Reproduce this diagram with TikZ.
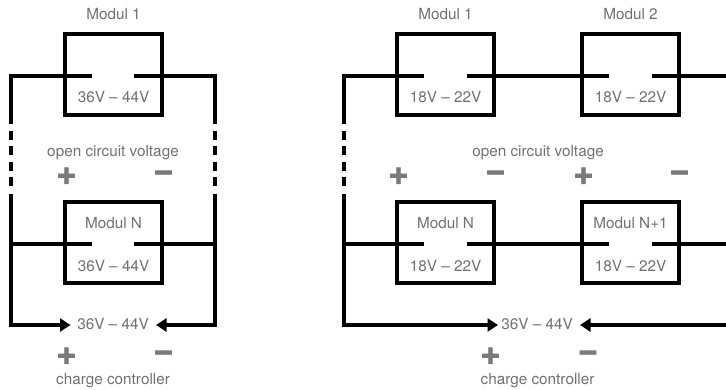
\documentclass[tikz,border=0pt]{standalone}
\usepackage{fontspec}
\setmainfont{TeX Gyre Heros}
\newfontfamily\signfont{Liberation Sans}[BoldFeatures={FakeBold=2}]
\usetikzlibrary{arrows.meta}
\definecolor{txt}{RGB}{112,112,112}
\definecolor{sgn}{RGB}{122,122,122}
\begin{document}
\begin{tikzpicture}[x=1pt,y=-1pt, line width=4pt, line join=miter,
 modbox/.style={draw, line width=4pt, minimum width=97pt, minimum height=81pt, inner sep=0pt},
 lbl/.style={text=txt, font=\fontsize{15.3}{17}\selectfont, anchor=base, inner sep=0pt},
 sgnlbl/.style={text=sgn, font=\signfont\bfseries\fontsize{32}{32}\selectfont, inner sep=0pt},
 wire/.style={draw, line width=4pt, line join=miter},
 arr/.style={-{Triangle[length=10.5pt,width=13pt]}},
 dsh/.style={dash pattern=on 9pt off 6.33pt}]
\useasboundingbox (0,0) rectangle (726,390);

% ---------- left diagram (parallel) ----------
\node[modbox] (L1) at (113.5,75) {};
\node[modbox] (LN) at (113.5,242.5) {};
\node[lbl] (L1t) at (113.5,19.5) {Modul 1};
\node[lbl] (L1v) at (113.5,103) {36V – 44V};
\node[lbl] (LNt) at (113.5,229) {Modul N};
\node[lbl] (LNv) at (113.5,272) {36V – 44V};
\node[lbl] (Loc) at (113,157) {open circuit voltage};
\node[sgnlbl] (Lp1) at (66.5,177) {+};
\node[sgnlbl] (Lm1) at (163.5,177) {−};
\node[lbl] (Lout) at (113,330) {36V – 44V};
\node[sgnlbl] (Lp2) at (66.5,357) {+};
\node[sgnlbl] (Lm2) at (163.5,357) {−};
\node[lbl] (Lcc) at (113,384) {charge controller};

\coordinate (la) at (91.7,76);  \coordinate (lb) at (11,76);
\coordinate (lc) at (11,124);   \coordinate (ld) at (11,131);
\coordinate (le) at (11,186);   \coordinate (lf) at (11,194);
\coordinate (lg) at (11,325);   \coordinate (lh) at (70.5,325);
\coordinate (li) at (11,244);   \coordinate (lj) at (91.7,244);
\coordinate (ra) at (134.3,76); \coordinate (rb) at (215,76);
\coordinate (rc) at (215,124);  \coordinate (rd) at (215,131);
\coordinate (re) at (215,186);  \coordinate (rf) at (215,194);
\coordinate (rg) at (215,325);  \coordinate (rh) at (156,325);
\coordinate (ri) at (215,244);  \coordinate (rj) at (134.3,244);

\draw[wire] (la) -- (lb) -- (lc);
\draw[wire,dsh] (ld) -- (le);
\draw[wire,arr] (lf) -- (lg) -- (lh);
\draw[wire] (li) -- (lj);
\draw[wire] (ra) -- (rb) -- (rc);
\draw[wire,dsh] (rd) -- (re);
\draw[wire,arr] (rf) -- (rg) -- (rh);
\draw[wire] (ri) -- (rj);

% ---------- right diagram (series) ----------
\node[modbox] (R1) at (445.5,75) {};
\node[modbox] (R2) at (630.5,75) {};
\node[modbox] (RN) at (445.5,243) {};
\node[modbox] (RN1) at (630.5,243) {};
\node[lbl] (R1t) at (445.5,19.5) {Modul 1};
\node[lbl] (R2t) at (630.5,19.5) {Modul 2};
\node[lbl] (R1v) at (445.5,103) {18V – 22V};
\node[lbl] (R2v) at (630.5,103) {18V – 22V};
\node[lbl] (RNt) at (445.5,229) {Modul N};
\node[lbl] (RN1t) at (630.5,229) {Modul N+1};
\node[lbl] (RNv) at (445.5,272) {18V – 22V};
\node[lbl] (RN1v) at (630.5,272) {18V – 22V};
\node[lbl] (Roc) at (538,157) {open circuit voltage};
\node[sgnlbl] (Rp1) at (398.5,177) {+};
\node[sgnlbl] (Rm1) at (495.5,177) {−};
\node[sgnlbl] (Rp2) at (583.5,177) {+};
\node[sgnlbl] (Rm2) at (679.5,177) {−};
\node[lbl] (Rout) at (537,330) {36V – 44V};
\node[sgnlbl] (Rp3) at (490.5,357) {+};
\node[sgnlbl] (Rm3) at (588,357) {−};
\node[lbl] (Rcc) at (537.5,384) {charge controller};

\coordinate (sa) at (424,76);  \coordinate (sb) at (344,76);
\coordinate (sc) at (344,124); \coordinate (sd) at (344,131);
\coordinate (se) at (344,186); \coordinate (sf) at (344,194);
\coordinate (sg) at (344,325); \coordinate (sh) at (498,325);
\coordinate (si) at (344,244); \coordinate (sj) at (424,244);
\coordinate (ta) at (467,76);  \coordinate (tb) at (609,76);
\coordinate (tc) at (652,76);  \coordinate (td) at (730,76);
\coordinate (ua) at (467,244); \coordinate (ub) at (609,244);
\coordinate (uc) at (652,244); \coordinate (ud) at (730,244);
\coordinate (va) at (730,325); \coordinate (vb) at (580,325);

\draw[wire] (sa) -- (sb) -- (sc);
\draw[wire,dsh] (sd) -- (se);
\draw[wire,arr] (sf) -- (sg) -- (sh);
\draw[wire] (si) -- (sj);
\draw[wire] (ta) -- (tb);
\draw[wire] (tc) -- (td);
\draw[wire] (ua) -- (ub);
\draw[wire] (uc) -- (ud);
\draw[wire,arr] (va) -- (vb);
\end{tikzpicture}
\end{document}
